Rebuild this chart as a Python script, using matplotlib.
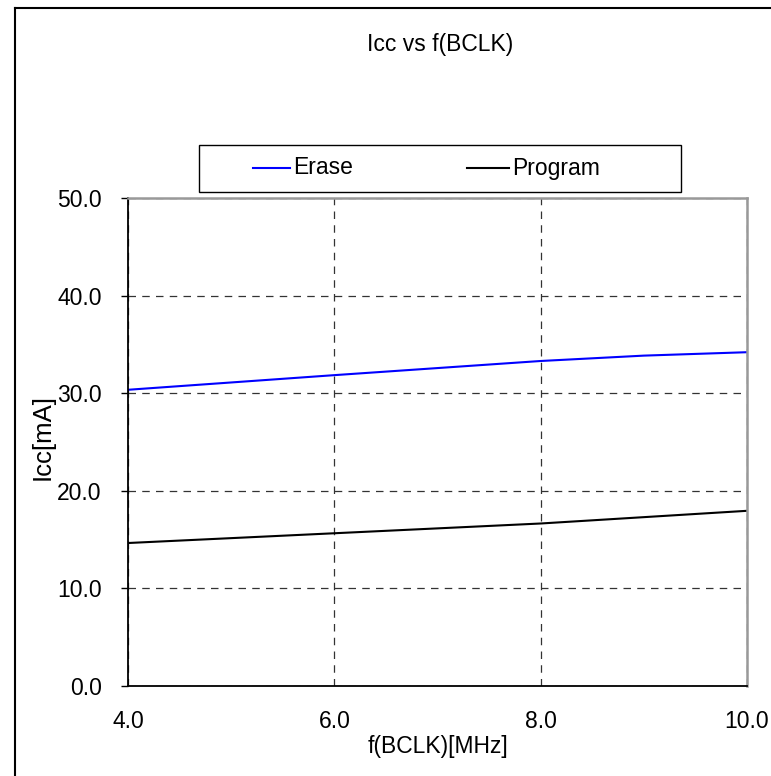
import matplotlib
matplotlib.use("Agg")
import matplotlib.pyplot as plt
from matplotlib.lines import Line2D
from matplotlib.patches import Rectangle

plt.rcParams['font.family'] = ['Liberation Sans', 'DejaVu Sans']

freq = [4.0, 6.0, 8.0, 9.0, 10.0]
erase = [30.35, 31.85, 33.3, 33.85, 34.2]
program = [14.65, 15.65, 16.65, 17.3, 17.95]
series_names = ['Erase', 'Program']
series_colors = ['#0000ff', 'black']
y_ticks = [0, 10, 20, 30, 40, 50]
x_ticks = [4, 6, 8, 10]

FS = 16.5
W, H = 771, 776
fig = plt.figure(figsize=(W / 100, H / 100), dpi=100)
ax = fig.add_axes([128 / W, 1 - 686 / H, (747 - 128) / W, (686 - 198) / H])

lines = []
for ys, name, col in zip([erase, program], series_names, series_colors):
    ln, = ax.plot(freq, ys, color=col, lw=1.5, label=name)
    lines.append(ln)

ax.set_xlim(4, 10)
ax.set_ylim(0, 50)
ax.set_xticks(x_ticks)
ax.set_yticks(y_ticks)
ax.set_xticklabels([f"{v:.1f}" for v in x_ticks], fontsize=FS)
ax.set_yticklabels([f"{v:.1f}" for v in y_ticks], fontsize=FS)
ax.tick_params(axis='x', length=0, pad=17)
ax.tick_params(axis='y', length=5, width=1, direction='out', pad=14)

ax.grid(True, linestyle=(0, (6, 5)), color='#333333', lw=0.9)
ax.set_axisbelow(True)

for s in ['left', 'bottom']:
    ax.spines[s].set_color('black')
    ax.spines[s].set_linewidth(1.3)
for s in ['top', 'right']:
    ax.spines[s].set_color('#999999')
    ax.spines[s].set_linewidth(1.8)

ax.set_xlabel('f(BCLK)[MHz]', fontsize=FS, labelpad=2)
ax.set_ylabel('Icc[mA]', fontsize=18.5, labelpad=3)
ax.yaxis.set_label_coords(-0.118, 0.51)

fig.text(440 / W, 1 - 45 / H, 'Icc vs f(BCLK)', ha='center', va='center', fontsize=FS)

# legend box drawn in figure pixels
def fx(px):
    return px / W

def fy(py):
    return 1 - py / H

fig.add_artist(Rectangle((fx(199), fy(192)), fx(681) - fx(199), fy(145) - fy(192),
                         transform=fig.transFigure, facecolor='white', edgecolor='black', lw=1.0))
yc = 168
for (x0, x1, xt), ln in zip([(253, 290, 293), (467, 509, 512)], lines):
    fig.add_artist(Line2D([fx(x0), fx(x1)], [fy(yc), fy(yc)], transform=fig.transFigure,
                          color=ln.get_color(), lw=1.5))
    fig.text(fx(xt), fy(yc), ln.get_label(), ha='left', va='center', fontsize=FS)

# outer frame
fig.add_artist(Line2D([fx(15), fx(15)], [0, fy(8)], transform=fig.transFigure, color='black', lw=1.5))
fig.add_artist(Line2D([fx(15), 1], [fy(8), fy(8)], transform=fig.transFigure, color='black', lw=1.5))

fig.savefig('out.png', dpi=100)
